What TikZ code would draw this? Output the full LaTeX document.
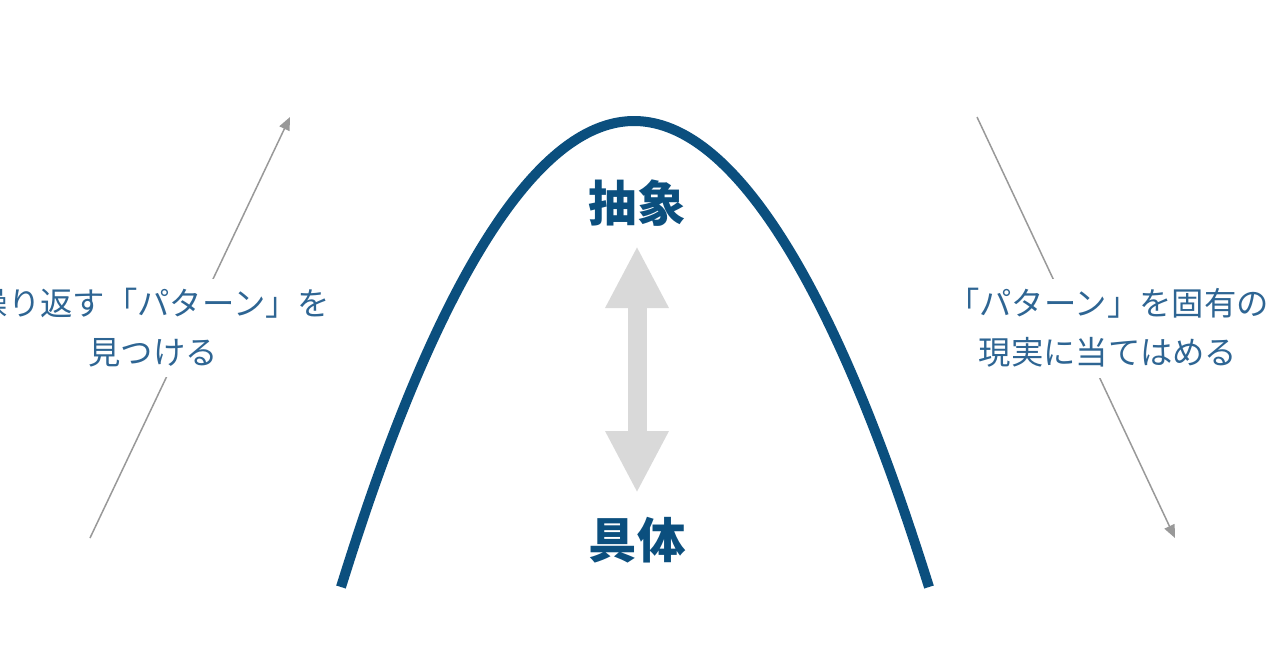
\documentclass[tikz,border=0pt]{standalone}
\usepackage{fontspec}
\setmainfont{Noto Sans CJK JP}
\usetikzlibrary{arrows.meta}
\definecolor{curveblue}{HTML}{0B4F7E}
\definecolor{sideblue}{HTML}{2E6593}
\definecolor{hintgray}{HTML}{999999}
\definecolor{biggray}{HTML}{D9D9D9}

\begin{document}
\begin{tikzpicture}
	[%
	x=0.1mm, y=-0.1mm,%
	curve/.style ={draw=curveblue,	line width=1mm},%
	level/.style ={text=curveblue,	font=\fontsize{13.8pt}{16pt}\selectfont\bfseries,	inner sep=0pt},%
	side/.style ={text=sideblue,	fill=white,	align=center,	font=\fontsize{9.2pt}{13.9pt}\selectfont,	inner xsep=0pt,	inner ysep=1mm},%
	hint/.style ={draw=hintgray,	line width=0.15mm,	-{Triangle[length=1.3mm, width=1.1mm]}},%
	updown/.style ={draw=biggray,	line width=1.9mm,	{Triangle[length=6.2mm, width=5.9mm]}-{Triangle[length=6.2mm, width=5.9mm]}},%
	]

	\useasboundingbox (0,0) rectangle (1280,671);

	% points
	\coordinate (lfoot) at (341,587);
	\coordinate (apex) at (634,121);
	\coordinate (rfoot) at (929,587);
	\coordinate (uptip) at (637,246);
	\coordinate (downtip) at (637,493);
	\foreach \n/\x/\y in {lfrom/90/538, lto/290/117, rfrom/977/117, rto/1175/538}
		\coordinate (\n) at (\x,\y);

	% curve
	\draw [curve] (lfoot) parabola bend (apex) (rfoot);

	% levels
	\node (abst) at (637,203) [level] {抽象};
	\node (conc) at (637,540) [level] {具体};
	\draw [updown] (uptip) -- (downtip);

	% side arrows
	\foreach \a/\b in {lfrom/lto, rfrom/rto}
		\draw [hint] (\a) -- (\b);

	% side texts
	\node (find) at (153,328) [side] {繰り返す「パターン」を\\見つける};
	\node (apply) at (1108,328) [side] {「パターン」を固有の\\現実に当てはめる};

\end{tikzpicture}
\end{document}
